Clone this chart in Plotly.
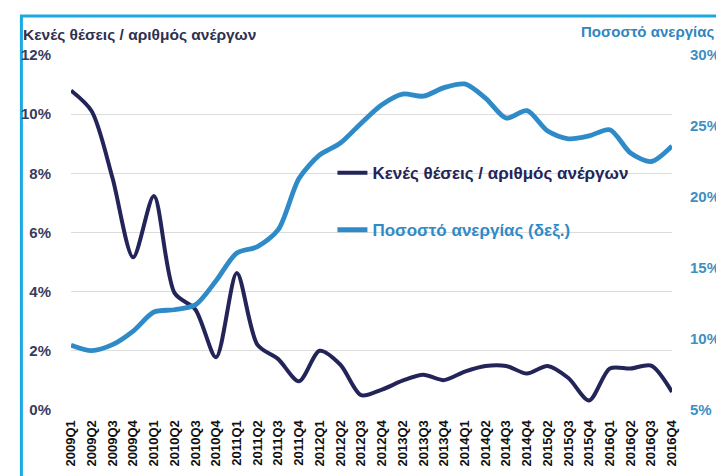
import plotly.graph_objects as go

quarters = ["2009Q1", "2009Q2", "2009Q3", "2009Q4", "2010Q1", "2010Q2", "2010Q3", "2010Q4",
            "2011Q1", "2011Q2", "2011Q3", "2011Q4", "2012Q1", "2012Q2", "2012Q3", "2012Q4",
            "2013Q2", "2013Q3", "2013Q4", "2014Q1", "2014Q2", "2014Q3", "2014Q4",
            "2015Q2", "2015Q3", "2015Q4", "2016Q1", "2016Q2", "2016Q3", "2016Q4"]

vacancy_ratio = [10.8, 10.1, 7.85, 5.16, 7.23, 3.95, 3.4, 1.78, 4.63, 2.2, 1.72, 0.97, 2.0, 1.53,
                 0.5, 0.69, 0.99, 1.19, 1.01, 1.3, 1.49, 1.49, 1.23, 1.49, 1.08, 0.32, 1.40,
                 1.40, 1.5, 0.61]

unemployment = [9.56, 9.18, 9.6, 10.56, 11.9, 12.06, 12.4, 14.1, 16.06, 16.5, 17.7, 21.3, 22.96,
                23.8, 25.2, 26.5, 27.25, 27.1, 27.7, 27.96, 26.97, 25.56, 26.08, 24.65, 24.1,
                24.3, 24.74, 23.1, 22.5, 23.6]

left_title = "Κενές θέσεις / αριθμός ανέργων"
right_title = "Ποσοστό ανεργίας"
legend_names = ["Κενές θέσεις / αριθμός ανέργων", "Ποσοστό ανεργίας (δεξ.)"]

DARK = "#232458"
LIGHT = "#2f8bc7"
FONT = "Liberation Sans, Arial, sans-serif"

fig = go.Figure()
fig.add_trace(go.Scatter(x=quarters, y=vacancy_ratio, mode="lines",
                         name=f"<b><span style='color:{DARK}'>{legend_names[0]}</span></b>",
                         line=dict(color=DARK, width=4, shape="spline", smoothing=0.8),
                         legendgroup="a"))
fig.add_trace(go.Scatter(x=quarters, y=unemployment, mode="lines",
                         name=f"<b><span style='color:{LIGHT}'>{legend_names[1]}</span></b>",
                         line=dict(color=LIGHT, width=4.8, shape="spline", smoothing=0.8),
                         yaxis="y2", legendgroup="b"))

fig.update_layout(
    width=724, height=476,
    margin=dict(l=63, r=43, t=47, b=74),
    paper_bgcolor="white", plot_bgcolor="white",
    font=dict(family=FONT),
    showlegend=True,
    legend=dict(x=0.435, y=0.718, xanchor="left", yanchor="top",
                bgcolor="rgba(0,0,0,0)", tracegroupgap=32,
                font=dict(size=17, family=FONT),
                itemwidth=30),
    xaxis=dict(type="category", tickangle=-90, showgrid=False, showline=False,
               ticks="outside", ticklen=4, tickcolor="rgba(0,0,0,0)",
               tickfont=dict(size=13, color="#111111", family=FONT, weight="bold"),
               fixedrange=True),
    yaxis=dict(range=[0, 12], dtick=2, ticksuffix="%", showgrid=True,
               gridcolor="#dcdcdc", gridwidth=1, zeroline=False, showline=False,
               ticks="outside", ticklen=16, tickcolor="rgba(0,0,0,0)",
               tickfont=dict(size=15, color="#3a3b5c", family=FONT, weight="bold")),
    yaxis2=dict(range=[5, 30], dtick=5, ticksuffix="%", overlaying="y", side="right",
                showgrid=False, zeroline=False, showline=False,
                ticks="outside", ticklen=14, tickcolor="rgba(0,0,0,0)",
                tickfont=dict(size=15, color="#3e8fc2", family=FONT, weight="bold")),
    annotations=[
        dict(text=f"<b>{left_title}</b>", xref="paper", yref="paper", x=(12 - 63) / 618,
             y=1 + (47 - 26) / 355,
             xanchor="left", yanchor="middle", showarrow=False,
             font=dict(size=15.5, color="#2e3050", family=FONT)),
        dict(text=f"<b>{right_title}</b>", xref="paper", yref="paper", x=(585 - 63) / 618,
             y=1 + (47 - 23) / 355,
             xanchor="left", yanchor="middle", showarrow=False,
             font=dict(size=15, color="#2f86c0", family=FONT)),
    ],
    shapes=[
        dict(type="rect", xref="paper", yref="paper",
             x0=(12 - 63) / 618, x1=(740 - 63) / 618,
             y0=-(490 - 402) / 355, y1=1 + (47 - 8) / 355,
             line=dict(color="#1aa9e3", width=3), fillcolor="rgba(0,0,0,0)", layer="below"),
    ],
)

fig.write_html("out.html")
